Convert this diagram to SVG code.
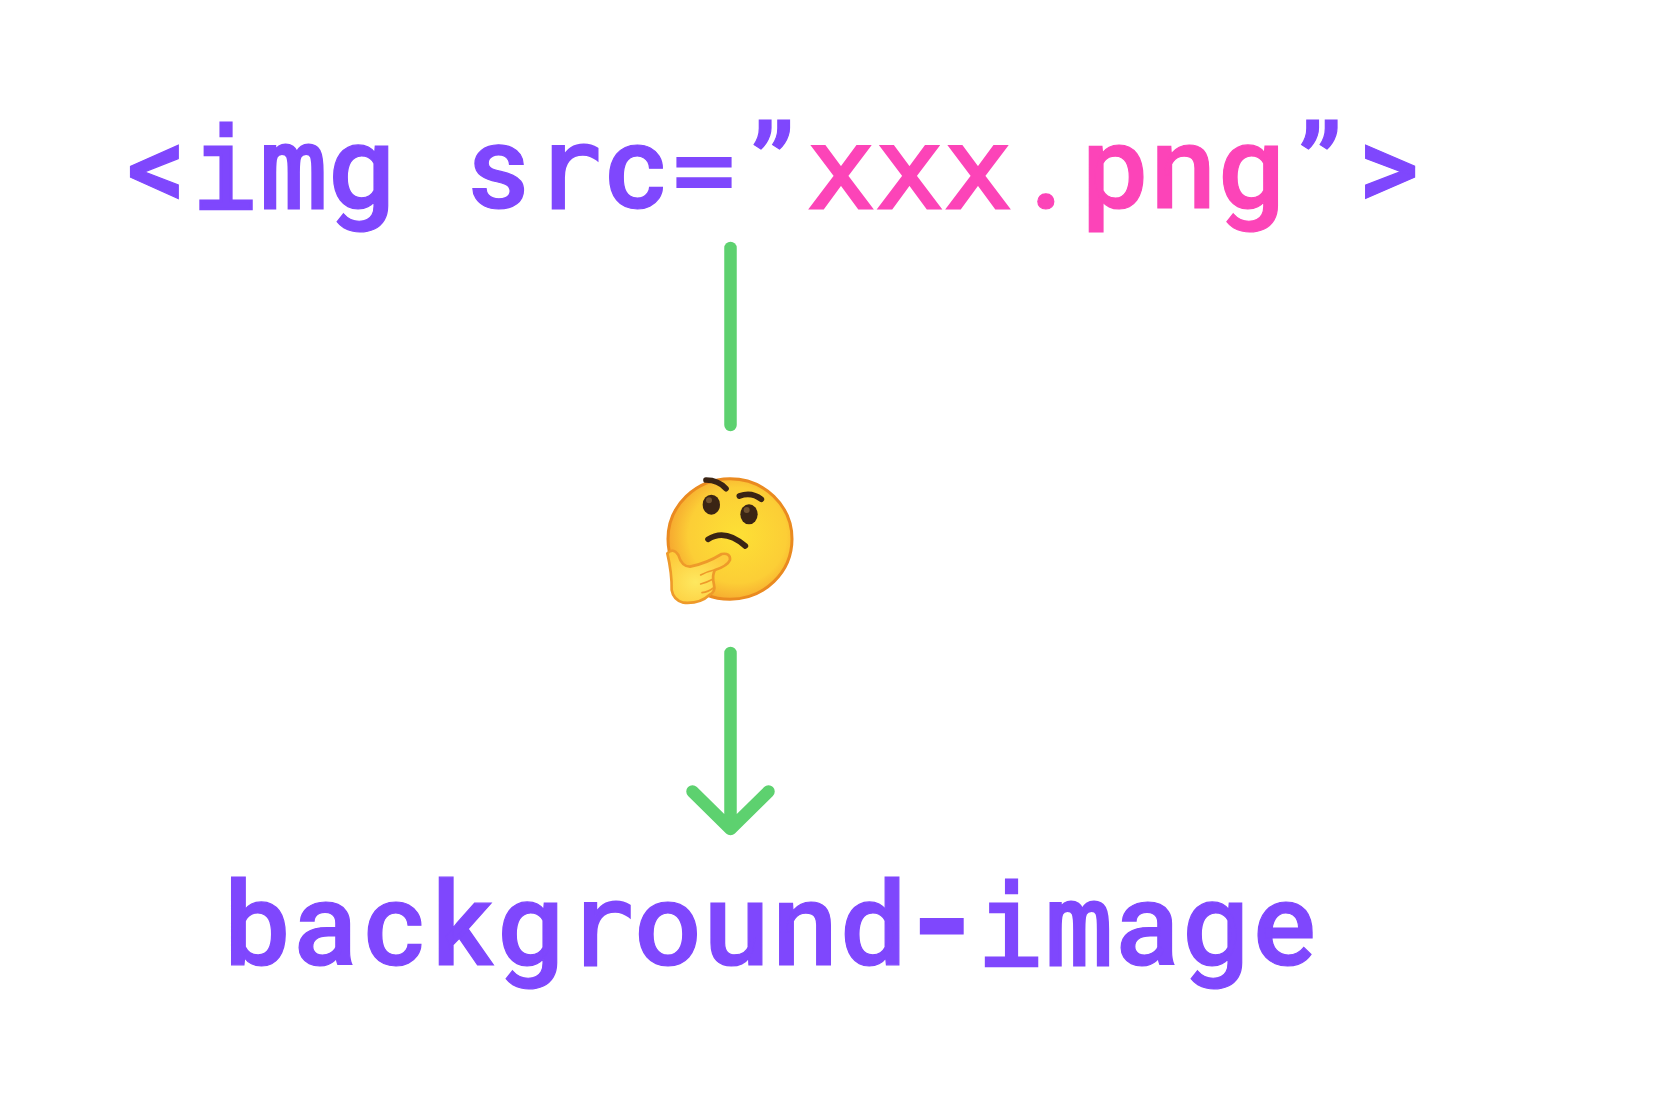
<svg xmlns="http://www.w3.org/2000/svg" width="1666" height="1098" viewBox="0 0 1666 1098">
<style>
.c{font-family:"Roboto","Liberation Sans",sans-serif;font-weight:500;font-size:116px;text-anchor:middle;fill:#7f47fd;stroke:#7f47fd;stroke-width:1.2px}
.p{fill:#fc44b8;stroke:#fc44b8}
.n{font-family:"DejaVu Sans Mono",monospace;font-weight:400;font-size:113px;stroke-width:3px}
.e{font-size:103px;stroke-width:2px}
.y{font-size:165px}
.l{fill:none;stroke:#5dd16f;stroke-width:12.500;stroke-linecap:round;stroke-linejoin:round}
.d{fill:none;stroke:#3a2414;stroke-width:17;stroke-linecap:round}
.h{fill:none;stroke:#ee9a2a;stroke-width:5;stroke-linecap:round;stroke-linejoin:round}
</style>
<defs>
<radialGradient id="f" cx="0.56" cy="0.47" r="0.55"><stop offset="0" stop-color="#fde035"/><stop offset="0.72" stop-color="#fcce36"/><stop offset="1" stop-color="#f6aa30"/></radialGradient>
<radialGradient id="g" cx="0.45" cy="0.6" r="0.6"><stop offset="0" stop-color="#fee85f"/><stop offset="1" stop-color="#fdcb3c"/></radialGradient>
</defs>
<g id="source-text">
<text class="c" y="208" x="156.5 224.9 293.4 361.8 430.3 498.7 567.2 635.6 704.1 772.5 841 909.4 977.9 1046.3 1114.8 1183.2 1251.7 1320.1 1388.6">&lt;<tspan class="n">im</tspan>g s<tspan class="n">r</tspan>c<tspan class="n e" dy="-3">=</tspan><tspan dy="3">”</tspan><tspan class="p"><tspan class="n">xxx</tspan>.png</tspan>”&gt;</text>
</g>
<g id="connectors">
<path class="l" d="M730.500 248V425"/>
<path class="l" d="M730.500 653V829M692.500 791.500L730.500 829L768.500 791.500"/>
</g>
<g id="thinking-face" transform="translate(640 460) scale(.33333)">
<ellipse cx="270" cy="237" rx="186" ry="181" fill="url(#f)" stroke="#ea8a20" stroke-width="9"/>
<path class="d" d="M198 60Q235 60 258 86M298 108Q335 95 364 118M204 238Q255 205 316 258"/>
<ellipse cx="214" cy="134" rx="26" ry="30" fill="#3a2414"/>
<circle cx="207" cy="121" r="9" fill="#6e5030"/>
<ellipse cx="327" cy="163" rx="26" ry="30" fill="#3a2414"/>
<circle cx="320" cy="150" r="9" fill="#6e5030"/>
<path d="M82 280Q100 262 115 285Q125 320 150 320Q200 310 245 282Q272 278 270 300Q262 318 225 330Q215 345 222 375Q228 395 208 405Q180 432 130 428Q100 420 95 390Q96 340 82 280Z" fill="url(#g)" stroke="#ee9a2a" stroke-width="8" stroke-linejoin="round"/>
<path class="h" d="M182 345Q200 335 222 330M182 372Q200 368 218 358M186 398Q205 396 220 384"/>
</g>
<g id="target-text">
<text class="c" y="965" x="257 325.500 394 462.500 531 599.500 668 736.500 805 873.500 942 1010.500 1079 1147.500 1216 1284.500">backg<tspan class="n">r</tspan>ound<tspan class="y" dy="11">-</tspan><tspan class="n" dy="-11">im</tspan>age</text>
</g>
</svg>
